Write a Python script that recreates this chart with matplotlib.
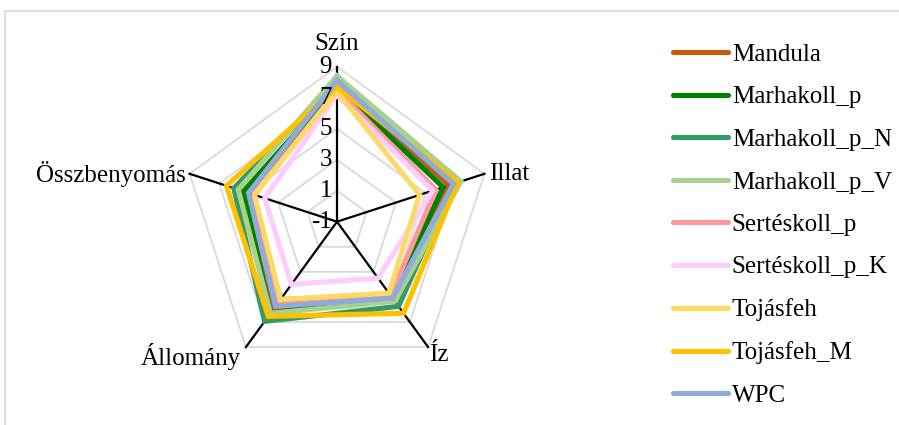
import numpy as np
import matplotlib
matplotlib.use('Agg')
import matplotlib.pyplot as plt
from matplotlib.transforms import offset_copy
from matplotlib.lines import Line2D

categories = ['Szín', 'Illat', 'Íz', 'Állomány', 'Összbenyomás']
series_names = ['Mandula', 'Marhakoll_p', 'Marhakoll_p_N', 'Marhakoll_p_V',
                'Sertéskoll_p', 'Sertéskoll_p_K', 'Tojásfeh', 'Tojásfeh_M', 'WPC']
mandula = [7.9, 6.6, 5.2, 6.0, 5.0]
marhakoll_p = [7.7, 6.2, 5.0, 6.3, 5.35]
marhakoll_p_n = [8.0, 6.9, 5.75, 6.95, 6.0]
marhakoll_p_v = [8.4, 7.4, 5.35, 6.3, 5.7]
serteskoll_p = [7.5, 5.7, 4.9, 5.5, 4.6]
serteskoll_p_k = [7.2, 5.5, 3.5, 4.0, 3.9]
tojasfeh = [7.4, 4.6, 4.7, 5.2, 4.6]
tojasfeh_m = [7.7, 7.2, 6.3, 6.55, 6.5]
wpc = [8.1, 6.9, 5.1, 5.75, 5.0]
series_values = [mandula, marhakoll_p, marhakoll_p_n, marhakoll_p_v,
                 serteskoll_p, serteskoll_p_k, tojasfeh, tojasfeh_m, wpc]
colors = ['#C55A11', '#008000', '#339966', '#A9D18E', '#FF9999',
          '#FFCCFF', '#FFD966', '#FFC000', '#8FAADC']
r_ticks = [-1, 1, 3, 5, 7, 9]
r_min, r_max = -1, 9

FONT = 'Liberation Serif'
FS = 18

W, H = 899, 425
fig = plt.figure(figsize=(W / 100, H / 100), dpi=100)

cx, cy, R = 337, 221.7, 155
ax = fig.add_axes([(cx - R) / W, 1 - (cy + R) / H, 2 * R / W, 2 * R / H],
                  projection='polar')
ax.set_theta_offset(np.pi / 2)
ax.set_theta_direction(-1)
ax.set_ylim(r_min, r_max)
ax.grid(False)
ax.spines['polar'].set_visible(False)
ax.set_xticks([])
ax.set_yticks([])
ax.patch.set_alpha(0)

n = len(categories)
theta = np.linspace(0, 2 * np.pi, n, endpoint=False)
theta_c = np.append(theta, theta[0])

for r in r_ticks[1:]:
    ax.plot(theta_c, [r] * (n + 1), color='#D9D9D9', lw=1.3, clip_on=False, zorder=1)
for t in theta:
    ax.plot([t, t], [r_min, r_max], color='black', lw=1.6, clip_on=False, zorder=2)

for name, vals, col in zip(series_names, series_values, colors):
    ax.plot(theta_c, list(vals) + [vals[0]], color=col, lw=3.7, label=name,
            solid_joinstyle='miter', clip_on=False, zorder=3)

# radial tick labels
tr = offset_copy(ax.transData, fig=fig, x=-5, y=0, units='dots')
for r in r_ticks:
    ax.text(0, r, str(r), transform=tr, ha='right', va='center',
            fontsize=FS, family=FONT, zorder=4)

# category labels
offs = [(0, 11.5, 'center', 'bottom'), (5, 0, 'left', 'center'),
        (11, -8, 'center', 'center'), (-5, -9, 'right', 'center'),
        (-4, 0, 'right', 'center')]
for t, lab, (dx, dy, ha, va) in zip(theta, categories, offs):
    trc = offset_copy(ax.transData, fig=fig, x=dx, y=dy, units='dots')
    ax.text(t, r_max, lab, transform=trc, ha=ha, va=va, fontsize=FS, family=FONT)

# legend
leg = fig.legend(loc='upper left', bbox_to_anchor=(673 / W, 1 - 43.5 / H),
                 frameon=False, prop={'family': FONT, 'size': FS},
                 handlelength=2.2, handletextpad=0.15, labelspacing=0.8,
                 borderaxespad=0, borderpad=0)
for h in leg.get_lines():
    h.set_linewidth(3.7)
    h.set_solid_capstyle('round')

# outer frame (partially visible)
fig.add_artist(Line2D([5 / W, 5 / W], [0, 1 - 11 / H], color='#D9D9D9', lw=1.2))
fig.add_artist(Line2D([5 / W, 1], [1 - 11 / H, 1 - 11 / H], color='#D9D9D9', lw=1.2))

fig.savefig('out.png', dpi=100)
